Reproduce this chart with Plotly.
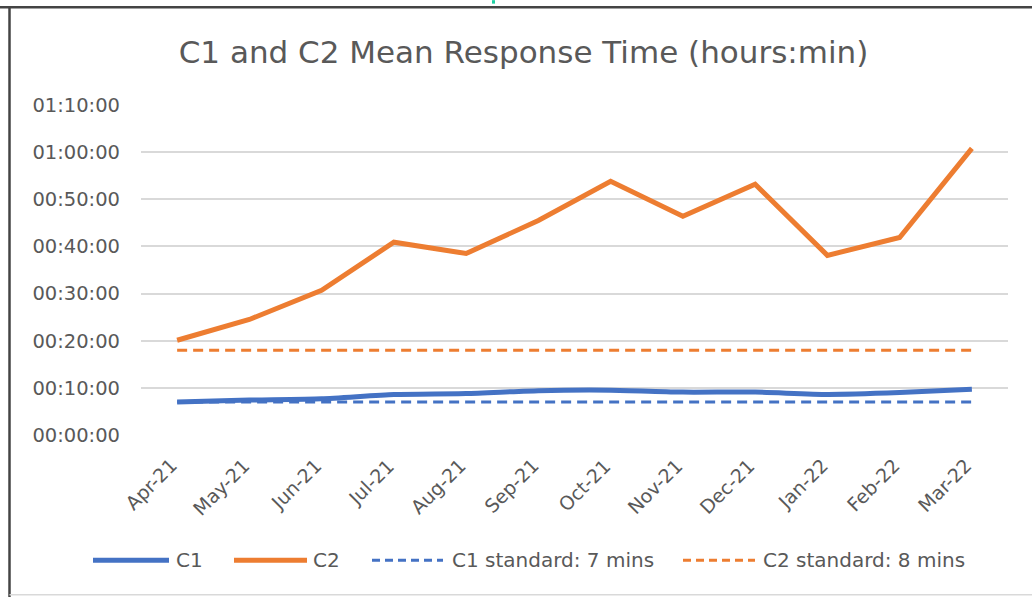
import plotly.graph_objects as go

months = ["Apr-21", "May-21", "Jun-21", "Jul-21", "Aug-21", "Sep-21",
          "Oct-21", "Nov-21", "Dec-21", "Jan-22", "Feb-22", "Mar-22"]
# values in minutes
c1 = [7.0, 7.4, 7.7, 8.6, 8.8, 9.4, 9.5, 9.1, 9.1, 8.6, 9.0, 9.7]
c2 = [20.1, 24.5, 30.7, 40.9, 38.5, 45.5, 53.8, 46.4, 53.2, 38.1, 41.9, 60.8]
c1_std = [7.0] * 12
c2_std = [18.0] * 12
tick_vals = [0, 10, 20, 30, 40, 50, 60, 70]
tick_text = ["00:00:00", "00:10:00", "00:20:00", "00:30:00", "00:40:00",
             "00:50:00", "01:00:00", "01:10:00"]

BLUE = "#4472C4"
ORANGE = "#ED7D31"
TXT = "#595959"
FONT = "DejaVu Sans"

fig = go.Figure()
fig.add_trace(go.Scatter(x=months, y=c2_std, mode="lines", name="C2 standard: 8 mins",
                         line=dict(color=ORANGE, width=3, dash="10px,6px")))
fig.add_trace(go.Scatter(x=months, y=c1_std, mode="lines", name="C1 standard: 7 mins",
                         line=dict(color=BLUE, width=3, dash="10px,6px")))
fig.add_trace(go.Scatter(x=months, y=c2, mode="lines", name="C2",
                         line=dict(color=ORANGE, width=5)))
fig.add_trace(go.Scatter(x=months, y=c1, mode="lines", name="C1",
                         line=dict(color=BLUE, width=5, shape="spline", smoothing=0.6)))

W, H = 1032, 597
L, R, T, B = 141, 1008, 105, 435.5
pw, ph = R - L, B - T


def px(x):
    return (x - L) / pw


def py(y):
    return (B - y) / ph


shapes = []
annotations = []
# rotated category labels
for m in months:
    annotations.append(dict(xref="x", yref="paper", x=m, y=py(452), xshift=7,
                            text=m, showarrow=False, textangle=-45,
                            xanchor="right", yanchor="top",
                            font=dict(family=FONT, size=19, color=TXT)))
# custom legend
legend_items = [
    (93, 169, 174, "C1", BLUE, 5, "solid"),
    (234, 307, 311, "C2", ORANGE, 5, "solid"),
    (372, 443, 450, "C1 standard: 7 mins", BLUE, 3, "8px,5px"),
    (683, 755, 761, "C2 standard: 8 mins", ORANGE, 3, "8px,5px"),
]
ly = 561
for x0, x1, tx, label, col, w, dash in legend_items:
    shapes.append(dict(type="line", xref="paper", yref="paper",
                       x0=px(x0), x1=px(x1), y0=py(ly), y1=py(ly),
                       line=dict(color=col, width=w, dash=dash)))
    annotations.append(dict(xref="paper", yref="paper", x=px(tx), y=py(ly),
                            text=label, showarrow=False, xanchor="left", yanchor="middle",
                            font=dict(family=FONT, size=20, color=TXT)))
# border
shapes.append(dict(type="line", xref="paper", yref="paper",
                   x0=px(0), x1=px(W), y0=py(7), y1=py(7),
                   line=dict(color="#444444", width=2.5)))
shapes.append(dict(type="line", xref="paper", yref="paper",
                   x0=px(9.5), x1=px(9.5), y0=py(7), y1=py(W),
                   line=dict(color="#444444", width=2.5)))
shapes.append(dict(type="line", xref="paper", yref="paper",
                   x0=px(9.5), x1=px(W), y0=py(595.5), y1=py(595.5),
                   line=dict(color="#d9d9d9", width=1.5)))
shapes.append(dict(type="rect", xref="paper", yref="paper",
                   x0=px(492), x1=px(495), y0=py(0), y1=py(3.5),
                   line=dict(width=0), fillcolor="#1fd1a4"))

fig.update_layout(
    width=W, height=H,
    margin=dict(l=L, r=W - R, t=T, b=H - B, autoexpand=False),
    paper_bgcolor="white", plot_bgcolor="white",
    showlegend=False,
    title=dict(text="C1 and C2 Mean Response Time (hours:min)",
               x=523.5 / W, xanchor="center", y=1 - 52 / H, yanchor="middle",
               font=dict(family=FONT, size=31, color=TXT)),
    shapes=shapes, annotations=annotations,
    font=dict(family=FONT, color=TXT),
)
fig.update_xaxes(type="category", categoryarray=months, range=[-0.5, len(months) - 0.5],
                 showgrid=False, zeroline=False, showline=False,
                 showticklabels=False, ticks="")
fig.update_yaxes(range=[0, 70], tickvals=tick_vals, ticktext=tick_text,
                 showgrid=True, gridcolor="#d9d9d9", gridwidth=1.5, zeroline=False,
                 showline=False, ticks="", tickfont=dict(family=FONT, size=19.5, color=TXT),
                 ticklabelstandoff=20)

fig.write_html("out.html", post_script="document.body.style.margin='0';",
               config={"displayModeBar": False})
